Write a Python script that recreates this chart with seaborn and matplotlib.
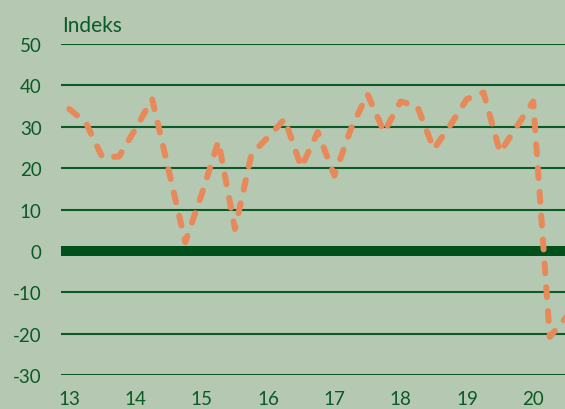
import pandas as pd
import seaborn as sns
import matplotlib.pyplot as plt

# -------- DATA (quarterly 2013Q1 - 2020Q3) --------
years = [13] * 4 + [14] * 4 + [15] * 4 + [16] * 4 + [17] * 4 + [18] * 4 + [19] * 4 + [20] * 3
quarters = [1, 2, 3, 4] * 7 + [1, 2, 3]
index_values = [34.3, 31.0, 22.6, 22.8,
                29.5, 36.7, 19.5, 2.1,
                13.8, 26.5, 5.3, 23.4,
                27.5, 31.9, 20.2, 28.7,
                18.2, 29.5, 37.9, 28.7,
                36.1, 35.0, 24.6, 30.4,
                36.7, 38.3, 23.8, 30.0,
                36.1, -20.8, -16.0]
y_ticks = [-30, -20, -10, 0, 10, 20, 30, 40, 50]
x_ticks = [13, 14, 15, 16, 17, 18, 19, 20]
y_label = "Indeks"

# -------- COLOURS --------
bg = "#b5c8b1"
dark_green = "#0b5a28"
zero_green = "#00501c"
orange = "#e8895a"

df = pd.DataFrame({"year": years, "quarter": quarters, "value": index_values})
df["t"] = df["year"] + (df["quarter"] - 1) / 4

sns.set_style("white")
plt.rcParams["font.family"] = ["Lato", "DejaVu Sans"]
plt.rcParams["axes.unicode_minus"] = False

fig = plt.figure(figsize=(5.65, 4.1), dpi=100, facecolor=bg)
ax = fig.add_axes([61 / 565, 1 - 376 / 410, 1 - 61 / 565, (376 - 45) / 410])
ax.set_facecolor(bg)

sns.lineplot(data=df, x="t", y="value", ax=ax, color=orange,
             linewidth=4.3, linestyle=(0, (1.67, 2.33)), zorder=4)
for ln in ax.lines:
    ln.set_dash_capstyle("round")

ax.axhline(0, color=zero_green, linewidth=7.2, zorder=3)

ax.set_ylim(-30, 50)
ax.set_xlim(12.875, 20.48)
ax.set_yticks(y_ticks)
ax.set_xticks(x_ticks)
ax.set_xticklabels([str(v) for v in x_ticks])
ax.grid(axis="y", color=dark_green, linewidth=1.5, zorder=1)
ax.grid(axis="x", visible=False)
ax.set_axisbelow(True)
ax.tick_params(axis="y", length=0, pad=14, labelsize=13.5, labelcolor=dark_green)
ax.tick_params(axis="x", length=0, pad=11, labelsize=13.5, labelcolor=dark_green)
ax.set_xlabel("")
ax.set_ylabel("")
sns.despine(ax=ax, left=True, bottom=True)

fig.text(62 / 565, 1 - 32 / 410, y_label, color=dark_green, fontsize=15,
         ha="left", va="baseline")

plt.savefig("out.png", dpi=100, facecolor=bg)
plt.close()
